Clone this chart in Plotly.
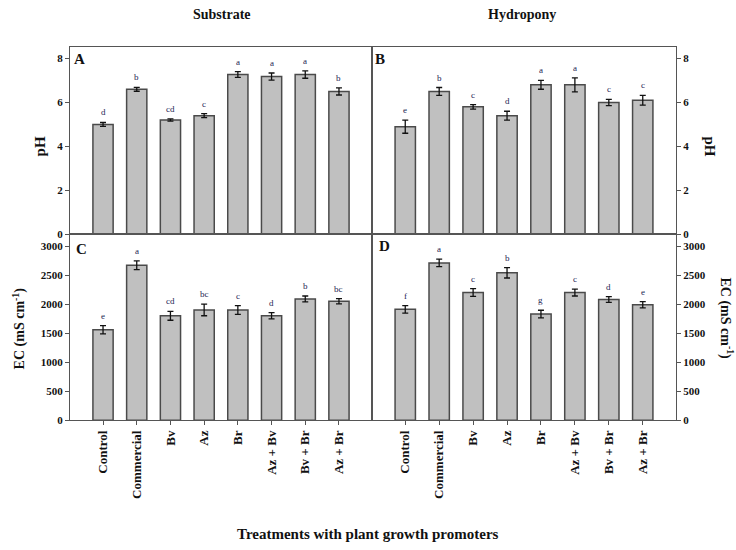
import plotly.graph_objects as go

treatments = ["Control", "Commercial", "Bv", "Az", "Br", "Az + Bv", "Bv + Br", "Az + Br"]

# pH - substrate (A) and hydropony (B)
ph_sub = [5.0, 6.6, 5.2, 5.4, 7.27, 7.18, 7.27, 6.5]
ph_sub_err = [0.09, 0.09, 0.05, 0.09, 0.13, 0.16, 0.17, 0.16]
ph_sub_let = ["d", "b", "cd", "c", "a", "a", "a", "b"]

ph_hyd = [4.9, 6.5, 5.8, 5.4, 6.8, 6.8, 6.0, 6.1]
ph_hyd_err = [0.3, 0.18, 0.1, 0.2, 0.2, 0.32, 0.14, 0.22]
ph_hyd_let = ["e", "b", "c", "d", "a", "a", "c", "c"]

# EC - substrate (C) and hydropony (D)
ec_sub = [1560, 2670, 1800, 1900, 1900, 1800, 2090, 2050]
ec_sub_err = [70, 75, 77, 100, 75, 55, 50, 45]
ec_sub_let = ["e", "a", "cd", "bc", "c", "d", "b", "bc"]

ec_hyd = [1910, 2710, 2200, 2540, 1830, 2200, 2080, 1990]
ec_hyd_err = [65, 65, 68, 90, 65, 60, 51, 54]
ec_hyd_let = ["f", "a", "c", "b", "g", "c", "d", "e"]

W, H = 736, 550
SERIF = "Liberation Serif"
BAR_FILL = "#c0c0c0"
BAR_LINE = "#4a4a4a"
FRAME = "#555555"
LETTER = "#1c2452"
INK = "#111111"


def px_x(v):
    return v / W


def px_y(v):
    return 1 - v / H


panels = [
    # data, err, letters, xaxis id, yaxis id
    (ph_sub, ph_sub_err, ph_sub_let, "x", "y"),
    (ph_hyd, ph_hyd_err, ph_hyd_let, "x2", "y2"),
    (ec_sub, ec_sub_err, ec_sub_let, "x3", "y3"),
    (ec_hyd, ec_hyd_err, ec_hyd_let, "x4", "y4"),
]

fig = go.Figure()
annotations = []
for vals, errs, lets, xa, ya in panels:
    fig.add_trace(go.Bar(
        x=treatments, y=vals, xaxis=xa, yaxis=ya, width=0.6,
        marker=dict(color=BAR_FILL, line=dict(color=BAR_LINE, width=1.5)),
        error_y=dict(type="data", array=errs, visible=True,
                     color=INK, thickness=1.3, width=3),
        showlegend=False, hoverinfo="skip",
    ))
    for t, v, e, l in zip(treatments, vals, errs, lets):
        annotations.append(dict(
            x=t, y=v + e, xref=xa, yref=ya, text=l, showarrow=False,
            yanchor="bottom", yshift=3,
            font=dict(family=SERIF, size=9, color=LETTER),
        ))

xl = [px_x(70), px_x(372)]
xr = [px_x(372), px_x(676)]
yt = [px_y(237), px_y(48)]
yb = [px_y(425), px_y(237)]
xrange = [-0.98, 7.98]
tickfont = dict(family=SERIF, size=11, color=INK, weight="bold")


def xaxis(domain, anchor, show_labels):
    return dict(
        domain=domain, anchor=anchor, range=xrange, type="category",
        showline=True, linecolor=FRAME, linewidth=1, mirror=True,
        showgrid=False, zeroline=False,
        ticks="outside" if show_labels else "", ticklen=4, tickcolor=FRAME,
        showticklabels=show_labels, tickangle=-90,
        tickfont=dict(family=SERIF, size=13, color=INK, weight="bold"),
    )


def yaxis(domain, anchor, rng, dtick, side):
    return dict(
        domain=domain, anchor=anchor, range=rng, dtick=dtick, side=side,
        showline=True, linecolor=FRAME, linewidth=1, mirror=True,
        showgrid=False, zeroline=False,
        ticks="outside", ticklen=4, tickcolor=FRAME, tickfont=tickfont,
    )


fig.update_layout(
    width=W, height=H,
    margin=dict(l=0, r=0, t=0, b=0),
    paper_bgcolor="white", plot_bgcolor="white",
    bargap=0.4,
    xaxis=xaxis(xl, "y", False),
    yaxis=yaxis(yt, "x", [0, 8.5], 2, "left"),
    xaxis2=xaxis(xr, "y2", False),
    yaxis2=yaxis(yt, "x2", [0, 8.5], 2, "right"),
    xaxis3=xaxis(xl, "y3", True),
    yaxis3=yaxis(yb, "x3", [0, 3200], 500, "left"),
    xaxis4=xaxis(xr, "y4", True),
    yaxis4=yaxis(yb, "x4", [0, 3200], 500, "right"),
)

# column headings, panel letters, axis titles
bold = lambda s: f"<b>{s}</b>"
extra = [
    dict(x=px_x(222), y=px_y(15), text=bold("Substrate"), size=14),
    dict(x=px_x(522), y=px_y(15), text=bold("Hydropony"), size=14),
    dict(x=px_x(79), y=px_y(60), text=bold("A"), size=15),
    dict(x=px_x(380), y=px_y(60), text=bold("B"), size=15),
    dict(x=px_x(81), y=px_y(252), text=bold("C"), size=15),
    dict(x=px_x(384), y=px_y(249), text=bold("D"), size=15),
    dict(x=px_x(40), y=px_y(148), text=bold("pH"), size=15, angle=-90),
    dict(x=px_x(710), y=px_y(148), text=bold("pH"), size=15, angle=90),
    dict(x=px_x(19), y=px_y(332), text=bold("EC (mS cm<sup>-1</sup>)"), size=14, angle=-90),
    dict(x=px_x(726), y=px_y(322), text=bold("EC (mS cm<sup>-1</sup>)"), size=14, angle=90),
    dict(x=px_x(368), y=px_y(540), text=bold("Treatments with plant growth promoters"), size=15),
]
for a in extra:
    annotations.append(dict(
        x=a["x"], y=a["y"], xref="paper", yref="paper", text=a["text"],
        showarrow=False, textangle=a.get("angle", 0),
        xanchor="center", yanchor="middle",
        font=dict(family=SERIF, size=a["size"], color=INK),
    ))

fig.update_layout(annotations=annotations)
fig.write_html("out.html")
